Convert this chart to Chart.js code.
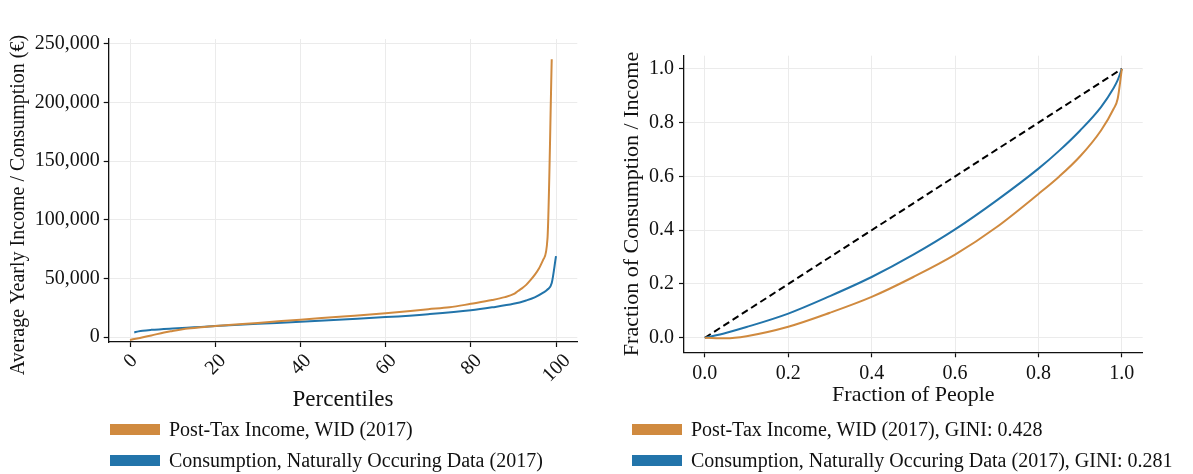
<!DOCTYPE html>
<html>
<head>
<meta charset="utf-8">
<script src="https://cdn.jsdelivr.net/npm/chart.js@4.4.1/dist/chart.umd.min.js"></script>
<style>
    body { margin: 0; background: #fff; width: 1193px; height: 474px; overflow: hidden; position: relative; font-family: 'Liberation Serif', serif; }
    canvas { position: absolute; top: 0; }
    #left-chart { left: 0; }
    #right-chart { left: 597px; }
    .legend { position: absolute; top: 414px; }
    .legend-item { height: 31px; display: flex; align-items: center; font-size: 20px; color: #111; white-space: nowrap; }
    .legend-box { width: 50px; height: 11px; margin-right: 9px; }
</style>
</head>
<body>
<canvas id="left-chart" width="597" height="474"></canvas>
<canvas id="right-chart" width="596" height="474"></canvas>
<div class="legend" id="left-legend" style="left:110px"></div>
<div class="legend" id="right-legend" style="left:632px"></div>
<script>
// Percentile curves
const incomePct = [0, 2, 5, 8, 10, 13, 16, 20, 30, 40, 50, 60, 70, 75, 80, 85, 88, 90, 91, 92, 93, 94, 95, 96, 97, 98, 99];
const incomeVal = [-2500, -1000, 1300, 3900, 5200, 7000, 8200, 9400, 12000, 14800, 17500, 20300, 23700, 25300, 28300, 31500, 34000, 36500, 39000, 41500, 44500, 48500, 53000, 58500, 66000, 84000, 237000];
const consPct = [1, 2, 3, 5, 10, 15, 20, 30, 40, 50, 60, 70, 80, 85, 90, 93, 95, 97, 98, 99, 100];
const consVal = [3900, 4800, 5400, 6100, 7300, 8300, 9300, 11200, 13000, 15000, 17000, 19500, 22800, 25300, 28300, 31200, 33800, 37800, 40500, 46000, 69000];

// Lorenz curves
const lorenzX = [0, 0.05, 0.1, 0.2, 0.3, 0.4, 0.5, 0.6, 0.7, 0.8, 0.85, 0.9, 0.95, 0.98, 0.99, 1.0];
const lorenzIncome = [0, -0.002, 0.006, 0.041, 0.093, 0.152, 0.226, 0.309, 0.412, 0.535, 0.600, 0.675, 0.771, 0.851, 0.889, 1.0];
const lorenzCons = [0, 0.018, 0.040, 0.090, 0.155, 0.226, 0.309, 0.403, 0.511, 0.629, 0.696, 0.771, 0.858, 0.928, 0.958, 1.0];
const equalityLine = [0, 1];

// Tick values
const pctTicks = [0, 20, 40, 60, 80, 100];
const euroTicks = [0, 50000, 100000, 150000, 200000, 250000];
const fracTicks = [0, 0.2, 0.4, 0.6, 0.8, 1.0];

const leftLabels = ['Post-Tax Income, WID (2017)', 'Consumption, Naturally Occuring Data (2017)'];
const rightLabels = ['Post-Tax Income, WID (2017), GINI: 0.428', 'Consumption, Naturally Occuring Data (2017), GINI: 0.281'];
const leftYTitle = 'Average Yearly Income / Consumption (€)';

const ORANGE = '#d08a3f';
const BLUE = '#2274aa';
const FONT = 'Liberation Serif';
const GRID = '#ebebeb';

Chart.defaults.font.family = FONT;
Chart.defaults.color = '#111';

function toPoints(xs, ys) {
    return xs.map((x, i) => ({ x: x, y: ys[i] }));
}

function fixSize(prop, value) {
    return function(scale) { scale[prop] = value; };
}

function setTicks(values) {
    return function(scale) { scale.ticks = values.map(v => ({ value: v })); };
}

// Rotated x tick labels, centred on the tick like matplotlib, plus the y title
const leftExtras = {
    id: 'leftExtras',
    afterDraw(chart) {
        const xs = chart.scales.x;
        const ctx = chart.ctx;
        ctx.save();
        ctx.font = '20px ' + FONT;
        ctx.fillStyle = '#111';
        ctx.textAlign = 'center';
        ctx.textBaseline = 'middle';
        xs.ticks.forEach(t => {
            const px = xs.getPixelForValue(t.value);
            const label = String(t.value);
            const w = ctx.measureText(label).width;
            const halfH = (w + 14) * Math.SQRT1_2 / 2;
            ctx.save();
            ctx.translate(px, xs.top + 10 + halfH);
            ctx.rotate(-Math.PI / 4);
            ctx.fillText(label, 0, 1);
            ctx.restore();
        });

        ctx.font = '20px ' + FONT;
        ctx.translate(19, 205);
        ctx.rotate(-Math.PI / 2);
        ctx.fillText(leftYTitle, 0, 0);
        ctx.restore();
    }
};

function lineDataset(label, data, color) {
    return {
        label: label,
        data: data,
        borderColor: color,
        backgroundColor: color,
        borderWidth: 2,
        pointRadius: 0,
        fill: false,
        cubicInterpolationMode: 'monotone'
    };
}

function axis(opts) {
    return Object.assign({
        type: 'linear',
        grid: { color: GRID, lineWidth: 1, tickColor: '#111', tickLength: 5, tickWidth: 1.2 },
        border: { color: '#111', width: 1.3 },
    }, opts);
}

new Chart(document.getElementById('left-chart'), {
    type: 'line',
    data: {
        datasets: [
            lineDataset(leftLabels[0], toPoints(incomePct, incomeVal), ORANGE),
            lineDataset(leftLabels[1], toPoints(consPct, consVal), BLUE)
        ]
    },
    options: {
        responsive: false,
        animation: false,
        layout: { padding: { left: 0, right: 19.7, top: 39, bottom: 60.2 } },
        plugins: { legend: { display: false }, tooltip: { enabled: false } },
        scales: {
            x: axis({
                position: 'bottom',
                min: -5, max: 105,
                ticks: { display: false },
                afterBuildTicks: setTicks(pctTicks),
                title: { display: true, text: 'Percentiles', font: { size: 23 }, padding: { top: 0, bottom: 0 } },
                afterFit: fixSize('height', 71.8)
            }),
            y: axis({
                position: 'left',
                min: -4266, max: 254266,
                afterBuildTicks: setTicks(euroTicks),
                ticks: {
                    padding: 4,
                    font: { size: 20 },
                    callback: v => v.toLocaleString('en-US')
                },
                afterFit: fixSize('width', 108.7)
            })
        }
    },
    plugins: [leftExtras]
});

new Chart(document.getElementById('right-chart'), {
    type: 'line',
    data: {
        datasets: [
            lineDataset(rightLabels[0], toPoints(lorenzX, lorenzIncome), ORANGE),
            lineDataset(rightLabels[1], toPoints(lorenzX, lorenzCons), BLUE),
            {
                label: 'Equality',
                data: toPoints(equalityLine, equalityLine),
                borderColor: '#000',
                borderWidth: 2,
                borderDash: [7, 4],
                pointRadius: 0,
                fill: false
            }
        ]
    },
    options: {
        responsive: false,
        animation: false,
        layout: { padding: { left: 0, right: 50.3, top: 55.7, bottom: 65.8 } },
        plugins: { legend: { display: false }, tooltip: { enabled: false } },
        scales: {
            x: axis({
                position: 'bottom',
                min: -0.05, max: 1.05,
                afterBuildTicks: setTicks(fracTicks),
                ticks: { padding: 4, font: { size: 20 }, maxRotation: 0, callback: v => v.toFixed(1) },
                title: { display: true, text: 'Fraction of People', font: { size: 22 }, padding: { top: 0, bottom: 0 } },
                afterFit: fixSize('height', 55.9)
            }),
            y: axis({
                position: 'left',
                min: -0.054, max: 1.049,
                afterBuildTicks: setTicks(fracTicks),
                ticks: { padding: 5, font: { size: 20 }, callback: v => v.toFixed(1) },
                title: { display: true, text: 'Fraction of Consumption / Income', font: { size: 22 }, padding: { top: 21.8, bottom: 0 } },
                afterFit: fixSize('width', 87)
            })
        }
    }
});

function buildLegend(id, labels, colors) {
    const el = document.getElementById(id);
    labels.forEach((label, i) => {
        const item = document.createElement('div');
        item.className = 'legend-item';
        item.innerHTML = `<span class="legend-box" style="background:${colors[i]}"></span><span>${label}</span>`;
        el.appendChild(item);
    });
}

buildLegend('left-legend', leftLabels, [ORANGE, BLUE]);
buildLegend('right-legend', rightLabels, [ORANGE, BLUE]);
</script>
</body>
</html>
